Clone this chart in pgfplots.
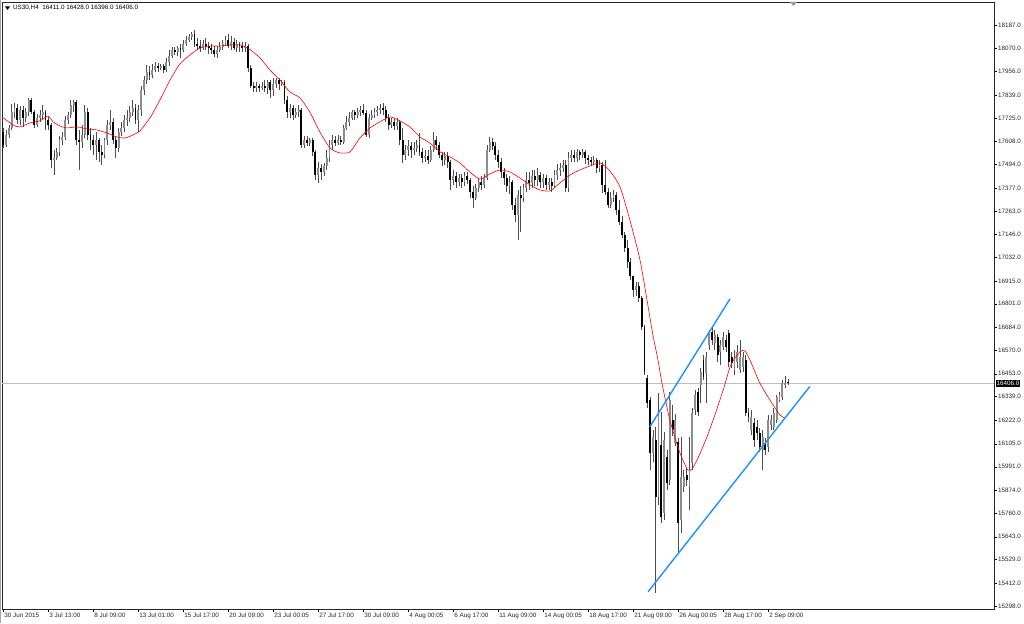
\documentclass[border=0pt]{standalone}
\usepackage{pgfplots}
\usepackage{pgfplotstable}
\usepackage{fontspec}
\setmainfont{Liberation Sans}
\pgfplotsset{compat=1.18}
\definecolor{trend}{RGB}{30,144,255}

% US30 H4 bars: index, open, high, low, close
\pgfplotstableread{
i o h l c
0 17655 17675 17575 17590
1 17590 17665 17580 17640
2 17640 17690 17625 17675
3 17675 17794 17665 17754
4 17754 17799 17725 17774
5 17774 17794 17695 17715
6 17715 17784 17690 17764
7 17764 17784 17680 17725
8 17725 17774 17705 17754
9 17754 17824 17734 17814
10 17814 17824 17744 17754
11 17754 17764 17675 17690
12 17690 17744 17680 17725
13 17725 17764 17705 17739
14 17739 17789 17715 17754
15 17754 17764 17665 17715
16 17715 17734 17665 17690
17 17690 17700 17476 17516
18 17516 17566 17441 17526
19 17526 17575 17516 17556
20 17556 17635 17536 17615
21 17615 17655 17590 17630
22 17630 17734 17615 17715
23 17715 17754 17695 17739
24 17739 17814 17725 17789
25 17789 17814 17754 17804
26 17804 17814 17590 17615
27 17615 17665 17466 17605
28 17605 17690 17575 17640
29 17640 17789 17625 17754
30 17754 17774 17615 17640
31 17640 17675 17566 17615
32 17615 17640 17541 17590
33 17590 17655 17516 17615
34 17615 17625 17506 17556
35 17556 17590 17491 17541
36 17541 17625 17526 17615
37 17615 17715 17590 17690
38 17690 17764 17665 17705
39 17705 17725 17595 17615
40 17615 17635 17526 17575
41 17575 17675 17556 17655
42 17655 17705 17635 17675
43 17675 17739 17655 17715
44 17715 17764 17685 17725
45 17725 17784 17705 17754
46 17754 17814 17734 17774
47 17774 17794 17695 17715
48 17715 17789 17655 17764
49 17764 17884 17734 17864
50 17864 17933 17839 17913
51 17913 17988 17894 17953
52 17953 17983 17913 17938
53 17938 17993 17923 17963
54 17963 18003 17953 17983
55 17983 17998 17953 17973
56 17973 17993 17963 17983
57 17983 17993 17948 17963
58 17963 18023 17953 18003
59 18003 18062 17983 18033
60 18033 18077 18023 18062
61 18062 18077 18038 18053
62 18053 18082 18033 18072
63 18072 18092 18023 18062
64 18062 18112 18053 18092
65 18092 18132 18082 18112
66 18112 18142 18102 18127
67 18127 18152 18112 18142
68 18142 18162 18077 18092
69 18092 18122 18062 18082
70 18082 18112 18053 18072
71 18072 18112 18062 18092
72 18092 18122 18062 18082
73 18082 18102 18043 18072
74 18072 18092 18043 18062
75 18062 18082 18028 18043
76 18043 18082 18023 18062
77 18062 18102 18053 18077
78 18077 18112 18062 18092
79 18092 18132 18082 18112
80 18112 18142 18072 18082
81 18082 18132 18062 18102
82 18102 18122 18062 18072
83 18072 18112 18053 18092
84 18092 18102 18053 18082
85 18082 18102 18053 18072
86 18072 18102 18053 18082
87 18082 18092 17953 17973
88 17973 17988 17874 17884
89 17884 17903 17854 17874
90 17874 17903 17854 17884
91 17884 17894 17854 17874
92 17874 17903 17864 17884
93 17884 17913 17854 17874
94 17874 17913 17844 17903
95 17903 17913 17824 17864
96 17864 17923 17834 17894
97 17894 17923 17874 17913
98 17913 17923 17864 17894
99 17894 17913 17884 17903
100 17903 17913 17794 17814
101 17814 17834 17725 17754
102 17754 17794 17725 17774
103 17774 17789 17715 17739
104 17739 17774 17725 17754
105 17754 17789 17730 17764
106 17764 17774 17575 17590
107 17590 17635 17575 17615
108 17615 17635 17585 17600
109 17600 17625 17585 17615
110 17615 17625 17536 17556
111 17556 17566 17416 17441
112 17441 17506 17401 17476
113 17476 17496 17416 17456
114 17456 17501 17436 17486
115 17486 17566 17466 17526
116 17526 17615 17506 17590
117 17590 17640 17566 17615
118 17615 17635 17585 17600
119 17600 17640 17590 17615
120 17615 17635 17590 17605
121 17605 17690 17595 17675
122 17675 17734 17665 17705
123 17705 17754 17685 17725
124 17725 17764 17715 17754
125 17754 17764 17715 17739
126 17739 17774 17725 17754
127 17754 17784 17734 17764
128 17764 17794 17739 17749
129 17749 17764 17630 17640
130 17640 17744 17625 17725
131 17725 17764 17715 17739
132 17739 17774 17725 17754
133 17754 17784 17734 17764
134 17764 17794 17744 17774
135 17774 17799 17739 17764
136 17764 17784 17705 17725
137 17725 17744 17665 17690
138 17690 17725 17675 17705
139 17705 17725 17665 17685
140 17685 17725 17665 17705
141 17705 17715 17590 17615
142 17615 17675 17501 17541
143 17541 17590 17516 17566
144 17566 17615 17536 17585
145 17585 17605 17526 17566
146 17566 17605 17541 17575
147 17575 17615 17556 17590
148 17590 17650 17536 17556
149 17556 17575 17501 17526
150 17526 17566 17506 17536
151 17536 17566 17496 17516
152 17516 17585 17506 17566
153 17566 17655 17556 17615
154 17615 17635 17566 17590
155 17590 17605 17526 17541
156 17541 17556 17486 17516
157 17516 17556 17491 17536
158 17536 17556 17476 17506
159 17506 17516 17367 17416
160 17416 17466 17392 17436
161 17436 17456 17377 17406
162 17406 17446 17387 17426
163 17426 17446 17377 17406
164 17406 17456 17387 17436
165 17436 17456 17396 17416
166 17416 17426 17327 17357
167 17357 17387 17277 17327
168 17327 17396 17317 17377
169 17377 17426 17357 17406
170 17406 17436 17367 17392
171 17392 17446 17377 17426
172 17426 17590 17416 17566
173 17566 17630 17556 17605
174 17605 17625 17566 17585
175 17585 17605 17516 17541
176 17541 17566 17476 17506
177 17506 17526 17426 17456
178 17456 17476 17392 17426
179 17426 17446 17357 17387
180 17387 17436 17347 17406
181 17406 17416 17267 17292
182 17292 17327 17208 17242
183 17242 17367 17118 17342
184 17342 17387 17158 17327
185 17327 17396 17307 17377
186 17377 17456 17357 17416
187 17416 17456 17367 17401
188 17401 17466 17377 17436
189 17436 17466 17387 17416
190 17416 17476 17387 17441
191 17441 17456 17377 17406
192 17406 17446 17377 17426
193 17426 17441 17367 17392
194 17392 17426 17367 17406
195 17406 17426 17357 17387
196 17387 17466 17377 17441
197 17441 17496 17416 17466
198 17466 17501 17436 17476
199 17476 17516 17456 17491
200 17491 17516 17357 17377
201 17377 17556 17357 17526
202 17526 17566 17506 17541
203 17541 17566 17506 17526
204 17526 17570 17506 17556
205 17556 17566 17516 17541
206 17541 17570 17526 17556
207 17556 17566 17496 17526
208 17526 17541 17491 17516
209 17516 17531 17486 17506
210 17506 17536 17491 17516
211 17516 17526 17451 17476
212 17476 17516 17456 17491
213 17491 17506 17352 17392
214 17392 17516 17342 17357
215 17357 17377 17277 17292
216 17292 17357 17277 17327
217 17327 17367 17307 17342
218 17342 17357 17242 17267
219 17267 17317 17193 17208
220 17208 17237 17128 17143
221 17143 17158 17059 17078
222 17078 17118 16979 17009
223 17009 17029 16919 16939
224 16939 16939 16835 16870
225 16870 16909 16840 16890
226 16890 16909 16810 16830
227 16830 16840 16671 16686
228 16686 16696 16447 16462
229 16432 16447 16283 16308
230 16323 16338 15975 16060
231 16060 16174 16015 16139
232 16124 16189 15364 15841
233 15841 16358 15801 16258
234 16099 16263 15712 15742
235 15761 16164 15727 16124
236 16040 16075 15876 15911
237 15925 16363 15901 16323
238 16224 16298 16144 16174
239 16109 16253 16094 16224
240 16114 16134 15563 15712
241 15727 16139 15662 15940
242 15891 15975 15866 15940
243 15950 15985 15896 15925
244 15891 16139 15776 15975
245 16010 16283 15975 16258
246 16273 16373 16248 16348
247 16363 16383 16244 16263
248 16398 16482 16308 16462
249 16522 16547 16422 16437
250 16457 16562 16308 16537
251 16596 16671 16572 16656
252 16661 16686 16596 16621
253 16606 16671 16572 16646
254 16636 16651 16512 16547
255 16562 16621 16497 16596
256 16586 16661 16572 16636
257 16621 16646 16562 16586
258 16656 16671 16487 16512
259 16537 16562 16482 16507
260 16472 16572 16447 16537
261 16512 16596 16482 16562
262 16472 16621 16457 16537
263 16487 16562 16462 16537
264 16522 16547 16244 16258
265 16258 16283 16214 16238
266 16174 16273 16149 16238
267 16209 16234 16089 16124
268 16189 16224 16124 16159
269 16159 16184 16065 16089
270 16075 16174 15975 16139
271 16109 16134 16050 16075
272 16089 16248 16065 16224
273 16199 16248 16174 16224
274 16189 16283 16174 16258
275 16224 16348 16209 16338
276 16323 16363 16313 16348
277 16338 16422 16323 16408
278 16398 16442 16383 16408
279 16411 16428 16396 16406
}\candles

% red moving average
\pgfplotstableread{
i p
0 17725
3.4 17690
5.9 17680
9.5 17700
13.0 17710
15.9 17734
17.7 17705
20.2 17685
22.6 17675
26.2 17680
29.8 17670
33.3 17665
36.9 17650
40.4 17630
43.3 17625
46.1 17640
48.6 17660
51.1 17705
52.2 17725
55.7 17814
59.3 17913
62.8 17993
66.4 18038
69.9 18072
73.5 18082
77.0 18082
80.6 18087
84.2 18087
87.0 18072
91.3 18023
94.8 17963
98.4 17913
101.9 17854
105.5 17824
109.0 17754
112.6 17655
116.2 17575
119.7 17551
123.3 17556
126.8 17625
130.4 17675
133.9 17705
137.5 17730
141.0 17710
144.6 17680
148.2 17630
151.7 17600
155.3 17556
158.8 17531
162.4 17501
165.9 17456
169.5 17421
173.0 17446
176.6 17466
180.2 17456
183.7 17426
187.3 17392
190.8 17367
194.4 17362
197.9 17401
201.5 17441
205.0 17466
208.6 17486
212.2 17501
215.7 17461
219.3 17382
222.8 17218
226.4 17019
228.9 16820
231.0 16646
232.8 16522
234.2 16408
235.6 16313
237.0 16224
238.8 16139
240.6 16060
243.4 15975
245.2 15985
247.7 16055
250.2 16139
252.3 16219
255.9 16368
258.7 16497
261.9 16562
263.7 16567
265.5 16522
269.0 16408
272.6 16323
276.2 16248
277.9 16234
}\ma

\begin{document}
\begin{tikzpicture}
\path[use as bounding box] (0,0) rectangle (1024pt,623pt);
\begin{axis}[
    at={(2pt,14pt)}, anchor=south west,
    scale only axis, width=992pt, height=607pt,
    xmin=-0.46, xmax=352.3, ymin=15284, ymax=18301,
    axis line style={black!85, line width=0.6pt},
    tick style={black, line width=0.5pt},
    tick align=outside, major tick length=3pt,
    xtick pos=left, ytick pos=right, yticklabel pos=right,
    xtick={0,16,...,272},
    xticklabels={30 Jun 2015, 3 Jul 13:00, 8 Jul 09:00, 13 Jul 01:00,
      15 Jul 17:00, 20 Jul 09:00, 23 Jul 00:05, 27 Jul 17:00, 30 Jul 09:00,
      4 Aug 00:05, 6 Aug 17:00, 11 Aug 09:00, 14 Aug 00:05, 18 Aug 17:00,
      21 Aug 09:00, 26 Aug 00:05, 28 Aug 17:00, 2 Sep 09:00},
    ytick={18187,18070,17956,17839,17725,17608,17494,17377,17263,17146,
      17032,16915,16801,16684,16570,16453,16339,16222,16105,15991,15874,
      15760,15643,15529,15412,15298},
    yticklabels={18187.0,18070.0,17956.0,17839.0,17725.0,17608.0,17494.0,
      17377.0,17263.0,17146.0,17032.0,16915.0,16801.0,16684.0,16570.0,
      16453.0,16339.0,16222.0,16105.0,15991.0,15874.0,15760.0,15643.0,
      15529.0,15412.0,15298.0},
    ticklabel style={font=\fontsize{6.3}{7}\selectfont, text=black!85},
    xticklabel style={anchor=north west, inner xsep=1pt, inner ysep=1pt},
    yticklabel style={anchor=west, inner xsep=1pt},
  ]
  % last price line
  \addplot[black!25, line width=0.5pt, forget plot] coordinates {(-0.46,16406) (352.3,16406)};
  \coordinate (pl) at (axis cs:352.3,16406);

  % wicks: low to high
  \addplot[black!70, line width=0.7pt, mark=none, forget plot,
    quiver={u=0, v={\thisrow{h}-\thisrow{l}}}]
    table[x=i, y=l] {\candles};
  % bodies: all grey first, then bearish ones black on top
  \addplot[black!45, line width=1.9pt, mark=none, forget plot,
    quiver={u=0, v={abs(\thisrow{c}-\thisrow{o})}}]
    table[x=i, y expr={min(\thisrow{o},\thisrow{c})}] {\candles};
  \addplot[black, line width=1.9pt, mark=none, forget plot,
    quiver={u=0, v={max(\thisrow{o}-\thisrow{c},0)}}]
    table[x=i, y=c] {\candles};

  % moving average
  \addplot[red, line width=0.6pt, smooth, tension=0.4, forget plot] table[x=i, y=p] {\ma};

  % trend channel
  \addplot[trend, line width=1.4pt, forget plot] coordinates {(229.9,16189) (258.4,16825)};
  \addplot[trend, line width=1.4pt, forget plot] coordinates {(229.3,15370) (286.8,16390)};
\end{axis}

\node[fill=black, text=white, font=\fontsize{6.3}{7}\selectfont, inner xsep=1pt, inner ysep=1.2pt, anchor=west]
  at ([xshift=1.5pt]pl) {16406.0};
\fill[black] (5pt,616.5pt) -- (10pt,616.5pt) -- (7.5pt,613pt) -- cycle;
\node[anchor=west, font=\fontsize{6.3}{7}\selectfont, inner sep=0pt] at (13pt,615pt)
  {US30,H4\ \ 16411.0 16428.0 16396.0 16406.0};
\fill[black!40] (790pt,621pt) -- (797pt,621pt) -- (793.5pt,617pt) -- cycle;
\draw[black!35, line width=1pt] (0.5pt,0pt) -- (0.5pt,623pt);
\end{tikzpicture}
\end{document}
